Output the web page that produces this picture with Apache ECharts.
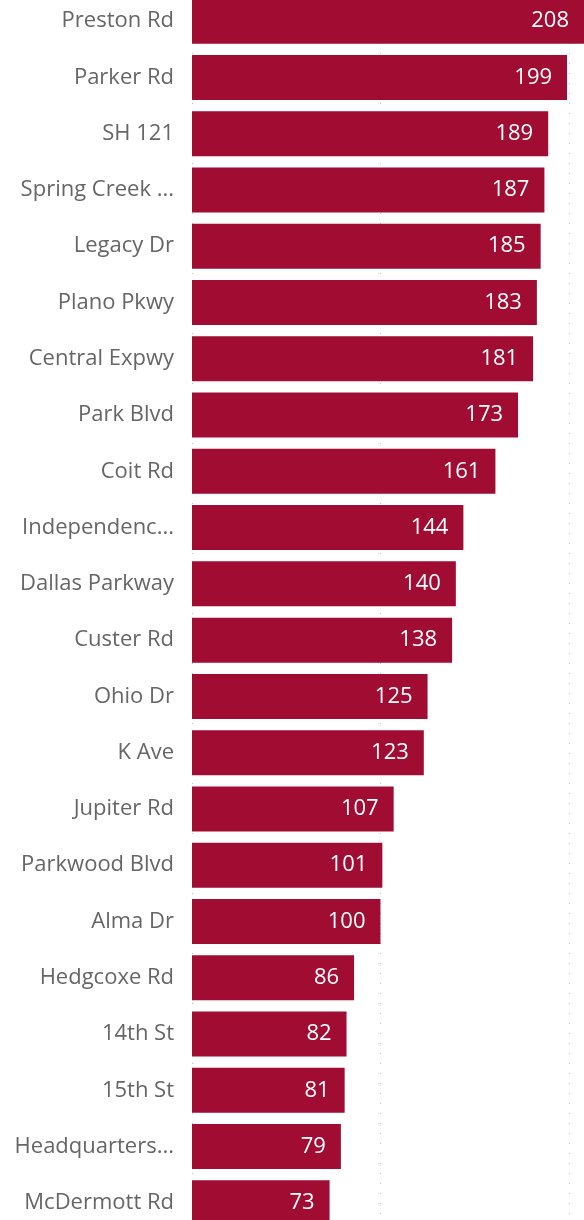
<!DOCTYPE html>
<html><head><meta charset="utf-8">
<script src="https://cdn.jsdelivr.net/npm/echarts@6/dist/echarts.min.js"></script>
<style>html,body{margin:0;padding:0;background:#fff;overflow:hidden}#c{position:absolute;left:0;top:-7px;width:584px;height:1238px}</style>
</head><body><div id="c"></div>
<script>
const categories = ["Preston Rd","Parker Rd","SH 121","Spring Creek ...","Legacy Dr","Plano Pkwy","Central Expwy","Park Blvd","Coit Rd","Independenc...","Dallas Parkway","Custer Rd","Ohio Dr","K Ave","Jupiter Rd","Parkwood Blvd","Alma Dr","Hedgcoxe Rd","14th St","15th St","Headquarters...","McDermott Rd"];
const values = [208,199,189,187,185,183,181,173,161,144,140,138,125,123,107,101,100,86,82,81,79,73];
const chart = echarts.init(document.getElementById('c'));
chart.setOption({
  animation:false,
  grid:{left:192,right:0,top:0,bottom:0,containLabel:false},
  xAxis:{type:'value',min:0,max:208,interval:100,
    axisLabel:{show:false},axisLine:{show:false},axisTick:{show:false},
    splitLine:{show:true,lineStyle:{color:'#bdbdbd',type:[1,9],width:1}}},
  yAxis:{type:'category',data:categories,inverse:true,
    axisLine:{show:false},axisTick:{show:false},
    axisLabel:{color:'#666',fontSize:22,fontFamily:'Open Sans',margin:18,padding:[3,0,0,0]}},
  series:[{type:'bar',data:values,barCategoryGap:'20%',
    itemStyle:{color:'#A10C33'},
    label:{show:true,position:'insideRight',distance:15,color:'#fff',fontSize:22,fontFamily:'Open Sans',padding:[3,0,0,0]}}]
});
</script></body></html>
